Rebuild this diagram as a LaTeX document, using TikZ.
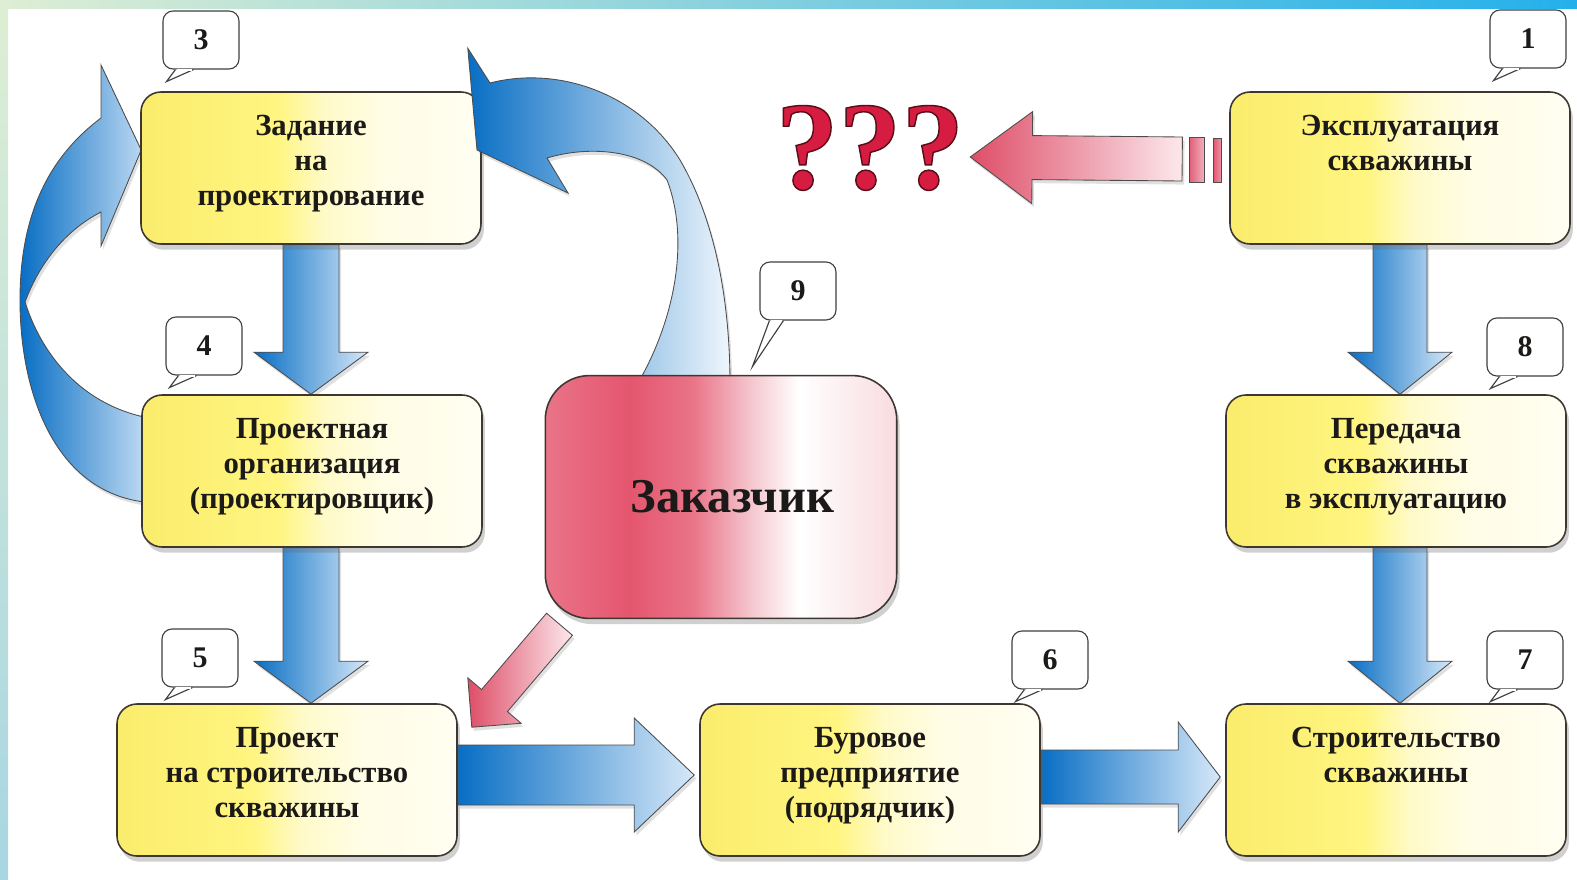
\documentclass[tikz,border=0pt]{standalone}
\usepackage{fontspec}
\setmainfont{Liberation Serif}
\usetikzlibrary{calc, positioning, shadows}
\definecolor{boxline}{RGB}{62,54,48}
\definecolor{boxyel}{RGB}{250,236,108}
\definecolor{boxyel2}{RGB}{255,245,128}
\definecolor{boxpale}{RGB}{255,250,200}
\definecolor{boxcream}{RGB}{255,253,228}
\definecolor{boxwhite}{RGB}{255,254,242}
\definecolor{textdark}{RGB}{28,26,24}
\definecolor{arrdark}{RGB}{8,110,196}
\definecolor{arrlight}{RGB}{214,232,248}
\definecolor{reddark}{RGB}{222,78,104}
\definecolor{redlight}{RGB}{252,232,236}
\definecolor{qred}{RGB}{214,28,64}
\definecolor{zakdark}{RGB}{228,86,110}
\definecolor{zakmid}{RGB}{234,116,136}
\definecolor{zakpale}{RGB}{244,196,204}
\definecolor{edgegreen}{RGB}{222,238,212}
\definecolor{edgeblue}{RGB}{36,176,234}
\definecolor{edgeteal}{RGB}{168,214,226}

\pgfdeclarehorizontalshading{boxshade}{100bp}{color(0bp)=(boxyel); color(25bp)=(boxyel); color(45bp)=(boxyel2); color(52bp)=(boxpale); color(60bp)=(boxcream); color(75bp)=(boxwhite); color(100bp)=(boxwhite)}
\pgfdeclarehorizontalshading{zakshade}{100bp}{color(0bp)=(zakmid); color(25bp)=(zakmid); color(37bp)=(zakdark); color(46bp)=(zakmid); color(54bp)=(zakpale); color(61bp)=(white); color(75bp)=(zakpale!60!white); color(100bp)=(zakpale!60!white)}

\pgfdeclarelayer{backdrop}
\pgfdeclarelayer{bg}
\pgfdeclarelayer{front}
\pgfsetlayers{backdrop,bg,main,front}

\tikzset{
  ybox/.style={draw=boxline, line width=1.1pt, rounded corners=14pt, shade, shading=boxshade,
    minimum width=238pt, minimum height=106.4pt,
    drop shadow={shadow xshift=2pt, shadow yshift=-4pt, opacity=.3, fill=black!60}},
  btext/.style={anchor=north, align=center, inner sep=0pt, text=textdark,
    font=\fontsize{21.5}{24.5}\selectfont\bfseries},
  bubble/.style={draw=black!75, line width=0.8pt, fill=white, rounded corners=7pt,
    minimum width=53.2pt, minimum height=40.6pt, inner sep=0pt, text=textdark,
    font=\fontsize{21}{21}\selectfont\bfseries},
  zak/.style={draw=boxline, line width=1.1pt, rounded corners=31pt, shade, shading=zakshade,
    minimum width=246pt, minimum height=170pt, text=textdark,
    font=\fontsize{34}{34}\selectfont\bfseries,
    drop shadow={shadow xshift=2pt, shadow yshift=-4pt, opacity=.3, fill=black!60}},
  bluearr/.style={draw=black!70, line width=0.6pt, left color=arrdark, right color=arrlight,
    drop shadow={shadow xshift=1.5pt, shadow yshift=-2.5pt, opacity=.2, fill=black!60}},
  redarr/.style={draw=black!70, line width=0.6pt, left color=reddark, right color=redlight,
    drop shadow={shadow xshift=1.5pt, shadow yshift=-2.5pt, opacity=.2, fill=black!60}}
}

% block arrow: style, from, to, half shaft, half head, head length (px)
\newcommand{\blockarrow}[6]{%
  \coordinate (hb) at ($(#3)!#6*0.7pt!(#2)$);
  \path[#1] ($(#2)!#4*0.7pt!-90:(#3)$) -- ($(hb)!#4*0.7pt!90:(#2)$) -- ($(hb)!#5*0.7pt!90:(#2)$)
    -- (#3) -- ($(hb)!#5*0.7pt!-90:(#2)$) -- ($(hb)!#4*0.7pt!-90:(#2)$)
    -- ($(#2)!#4*0.7pt!90:(#3)$) -- cycle;}

\begin{document}
\begin{tikzpicture}[x=0.7pt, y=-0.7pt]
  \useasboundingbox (0,0) rectangle (1577,879);

  % frame
  \begin{pgfonlayer}{backdrop}
    \fill[white] (0,0) rectangle (1577,879);
    \shade[top color=edgegreen, bottom color=edgeteal] (0,0) rectangle (8,879);
    \shade[left color=edgegreen, right color=edgeblue] (0,0) rectangle (1577,8);
  \end{pgfonlayer}

  % boxes
  \node[ybox] (b3) at (311,168) {};
  \node[btext] (t3) at ($(b3.north)+(0,24)$) {Задание\\на\\проектирование};
  \node[ybox] (b4) at (312,471) {};
  \node[btext] (t4) at ($(b4.north)+(0,24)$) {Проектная\\организация\\(проектировщик)};
  \node[ybox] (b5) at (287,780) {};
  \node[btext] (t5) at ($(b5.north)+(0,24)$) {Проект\\на строительство\\скважины};
  \node[ybox] (b6) at (870,780) {};
  \node[btext] (t6) at ($(b6.north)+(0,24)$) {Буровое\\предприятие\\(подрядчик)};
  \node[ybox] (b7) at (1396,780) {};
  \node[btext] (t7) at ($(b7.north)+(0,24)$) {Строительство\\скважины};
  \node[ybox] (b8) at (1396,471) {};
  \node[btext] (t8) at ($(b8.north)+(0,24)$) {Передача\\скважины\\в эксплуатацию};
  \node[ybox] (b1) at (1400,168) {};
  \node[btext] (t1) at ($(b1.north)+(0,24)$) {Эксплуатация\\скважины};

  \begin{pgfonlayer}{front}
    \node[zak] (zak) at (721,497) {\hspace*{16pt}Заказчик};
  \end{pgfonlayer}

  % number bubbles
  \foreach \nm/\bx/\by/\num in {n3/201/40/3, n4/204/346/4, n5/200/658/5, n6/1050/660/6,
                                n7/1525/660/7, n8/1525/347/8, n1/1528/39/1}{
    \node[bubble] (\nm) at (\bx,\by) {\num};
    \filldraw[fill=white, draw=black!75, line width=0.8pt]
      ($(\nm.south west)+(13,0)$) -- ($(\nm.south west)+(4,12)$) -- ($(\nm.south west)+(31,0)$);
    \draw[white, line width=1.4pt] ($(\nm.south west)+(14.5,0)$) -- ($(\nm.south west)+(29.5,0)$);
  }
  \node[bubble] (n9) at (798,291) {9};
  \filldraw[fill=white, draw=black!75, line width=0.8pt]
    ($(n9.south west)+(10,0)$) -- ($(n9.south west)+(-7,46)$) -- ($(n9.south west)+(24,0)$);
  \draw[white, line width=1.4pt] ($(n9.south west)+(11.5,0)$) -- ($(n9.south west)+(22.5,0)$);

  % straight blue arrows
  \begin{pgfonlayer}{bg}
    \blockarrow{bluearr}{b3.south}{b3.south |- b4.north}{28}{57}{42}
    \coordinate (a45) at (b3.south |- b4.south);
    \blockarrow{bluearr}{a45}{b3.south |- b5.north}{28}{57}{42}
    \blockarrow{bluearr}{b1.south}{b1.south |- b8.north}{27}{52}{42}
    \coordinate (a87) at (b1.south |- b8.south);
    \blockarrow{bluearr}{a87}{b1.south |- b7.north}{27}{52}{42}
    \coordinate (a56) at ($(b5.east)+(0,-5)$);
    \coordinate (e56) at ($(b6.west)+(-5,-5)$);
    \blockarrow{bluearr}{a56}{e56}{30}{57}{60}
    \coordinate (a67) at ($(b6.east)+(0,-3)$);
    \coordinate (e67) at ($(b7.west)+(-5,-3)$);
    \blockarrow{bluearr}{a67}{e67}{27}{55}{42}

    % loop from the design organisation back to the task
    \path[bluearr] ($(b3.west)+(1,-18)$) -- (101,65) -- (101,118)
      .. controls (45,160) and (20,220) .. (20,300)
      .. controls (20,400) and (60,503) .. ($(b4.west)+(20,32)$)
      -- ($(b4.west)+(20,-51)$)
      .. controls (80,410) and (40,350) .. (25,302)
      .. controls (40,262) and (66,230) .. (101,212) -- (101,246) -- cycle;
  \end{pgfonlayer}

  % arc from the customer to the task
  \path[draw=black!70, line width=0.6pt, left color=arrdark, right color=arrlight!40!white,
        drop shadow={shadow xshift=1.5pt, shadow yshift=-2.5pt, opacity=.2, fill=black!60}]
    ($(b3.north east)+(-14,-43)$) -- (490,83)
    .. controls (560,65) and (640,95) .. (680,160)
    .. controls (715,220) and (730,300) .. ($(zak.north)+(9,10)$)
    -- ($(zak.north)+(-84,10)$)
    .. controls (675,320) and (690,240) .. (667,180)
    .. controls (645,150) and (590,145) .. (547,158) -- (568,193) -- (477,150) -- cycle;

  % customer to project
  \coordinate (za) at ($(zak.south west)+(15,5)$);
  \coordinate (zt) at ($(b5.north east)+(14,24)$);
  \blockarrow{redarr}{za}{zt}{17}{35}{35}

  % operation -> ???
  \node[font=\fontsize{88}{88}\selectfont\bfseries, text=qred, inner sep=0pt] (q) at (870,148)
    {\special{pdf:literal direct 2 Tr 1 w 0.35 0.05 0.1 RG}???\special{pdf:literal direct 0 Tr}};
  \coordinate (qa) at ($(b1.west)+(-47,-9)$);
  \coordinate (qt) at ($(b1.west)+(-259,-11)$);
  \blockarrow{redarr}{qa}{qt}{22}{46}{62}
  \shade[draw=black!70, line width=0.6pt, left color=reddark!90, right color=reddark!45]
    ($(b1.west)+(-40,-31)$) rectangle ($(b1.west)+(-25,14)$);
  \shade[draw=black!70, line width=0.6pt, left color=reddark!95, right color=reddark!60]
    ($(b1.west)+(-16,-30)$) rectangle ($(b1.west)+(-8,14)$);
\end{tikzpicture}
\end{document}
